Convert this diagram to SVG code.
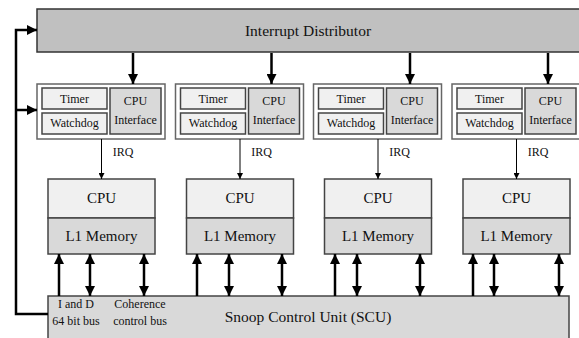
<svg xmlns="http://www.w3.org/2000/svg" width="579" height="338" viewBox="0 0 579 338">
<style>
text{font-family:"Liberation Serif","Times New Roman",serif;fill:#111;text-anchor:middle}
.big{font-size:15px}
.sm{font-size:12px}
.dist{fill:#c0c0c0;stroke:#333;stroke-width:1.5}
.grp{fill:#fff;stroke:#666;stroke-width:1.5}
.light{fill:#f0f0f0;stroke:#444;stroke-width:1.5}
.mid{fill:#d9d9d9;stroke:#444;stroke-width:1.5}
.thick{stroke:#000;stroke-width:2.5;fill:none}
.thin{stroke:#000;stroke-width:1;fill:none}
</style>
<defs>
<marker id="ah" viewBox="0 0 10 10" refX="10" refY="5" markerWidth="10" markerHeight="10" markerUnits="userSpaceOnUse" orient="auto-start-reverse"><path d="M0,0 L10,5 L0,10 z" fill="#000"/></marker>
<marker id="ahs" viewBox="0 0 10 10" refX="10" refY="5" markerWidth="6" markerHeight="6" markerUnits="userSpaceOnUse" orient="auto-start-reverse"><path d="M0,0 L10,5 L0,10 z" fill="#000"/></marker>
</defs>

<g id="distributor">
<rect class="dist" x="37" y="9" width="545" height="43"/>
<text class="big" x="308" y="36" style="font-size:15.5px">Interrupt Distributor</text>
</g>

<g id="gic0" transform="translate(37,0)">
<rect class="grp" x="0" y="84" width="128" height="55"/>
<rect class="light" x="5" y="88" width="65" height="21"/>
<text class="sm" x="37.5" y="103">Timer</text>
<rect class="light" x="5" y="113" width="65" height="21"/>
<text class="sm" x="37.5" y="127">Watchdog</text>
<rect class="mid" x="73" y="88" width="51" height="46"/>
<text class="sm" x="98.5" y="105">CPU</text>
<text class="sm" x="98.5" y="124">Interface</text>
<text class="sm" x="86" y="156">IRQ</text>
</g>
<g id="gic1" transform="translate(175.5,0)">
<rect class="grp" x="0" y="84" width="128" height="55"/>
<rect class="light" x="5" y="88" width="65" height="21"/>
<text class="sm" x="37.5" y="103">Timer</text>
<rect class="light" x="5" y="113" width="65" height="21"/>
<text class="sm" x="37.5" y="127">Watchdog</text>
<rect class="mid" x="73" y="88" width="51" height="46"/>
<text class="sm" x="98.5" y="105">CPU</text>
<text class="sm" x="98.5" y="124">Interface</text>
<text class="sm" x="86" y="156">IRQ</text>
</g>
<g id="gic2" transform="translate(313.5,0)">
<rect class="grp" x="0" y="84" width="128" height="55"/>
<rect class="light" x="5" y="88" width="65" height="21"/>
<text class="sm" x="37.5" y="103">Timer</text>
<rect class="light" x="5" y="113" width="65" height="21"/>
<text class="sm" x="37.5" y="127">Watchdog</text>
<rect class="mid" x="73" y="88" width="51" height="46"/>
<text class="sm" x="98.5" y="105">CPU</text>
<text class="sm" x="98.5" y="124">Interface</text>
<text class="sm" x="86" y="156">IRQ</text>
</g>
<g id="gic3" transform="translate(452,0)">
<rect class="grp" x="0" y="84" width="128" height="55"/>
<rect class="light" x="5" y="88" width="65" height="21"/>
<text class="sm" x="37.5" y="103">Timer</text>
<rect class="light" x="5" y="113" width="65" height="21"/>
<text class="sm" x="37.5" y="127">Watchdog</text>
<rect class="mid" x="73" y="88" width="51" height="46"/>
<text class="sm" x="98.5" y="105">CPU</text>
<text class="sm" x="98.5" y="124">Interface</text>
<text class="sm" x="86" y="156">IRQ</text>
</g>

<g id="cpu0" transform="translate(48,0)">
<rect class="light" x="0" y="179" width="107" height="39"/>
<rect class="mid" x="0" y="218" width="107" height="36"/>
<text class="big" x="53.5" y="203">CPU</text>
<text class="big" x="53.5" y="241">L1 Memory</text>
</g>
<g id="cpu1" transform="translate(186.5,0)">
<rect class="light" x="0" y="179" width="107" height="39"/>
<rect class="mid" x="0" y="218" width="107" height="36"/>
<text class="big" x="53.5" y="203">CPU</text>
<text class="big" x="53.5" y="241">L1 Memory</text>
</g>
<g id="cpu2" transform="translate(324.5,0)">
<rect class="light" x="0" y="179" width="107" height="39"/>
<rect class="mid" x="0" y="218" width="107" height="36"/>
<text class="big" x="53.5" y="203">CPU</text>
<text class="big" x="53.5" y="241">L1 Memory</text>
</g>
<g id="cpu3" transform="translate(463,0)">
<rect class="light" x="0" y="179" width="107" height="39"/>
<rect class="mid" x="0" y="218" width="107" height="36"/>
<text class="big" x="53.5" y="203">CPU</text>
<text class="big" x="53.5" y="241">L1 Memory</text>
</g>

<g id="scu">
<rect class="mid" x="48" y="296" width="521" height="50"/>
<text class="big" x="308" y="322" style="font-size:15.5px">Snoop Control Unit (SCU)</text>
<text class="sm" x="76" y="308">I and D</text>
<text class="sm" x="76" y="325">64 bit bus</text>
<text class="sm" x="140" y="308">Coherence</text>
<text class="sm" x="140" y="325">control bus</text>
</g>

<g id="connectors">
<line class="thick" x1="133" y1="53" x2="133" y2="84" marker-end="url(#ah)"/>
<line class="thick" x1="271.5" y1="53" x2="271.5" y2="84" marker-end="url(#ah)"/>
<line class="thick" x1="410" y1="53" x2="410" y2="84" marker-end="url(#ah)"/>
<line class="thick" x1="548" y1="53" x2="548" y2="84" marker-end="url(#ah)"/>

<line class="thin" x1="101.5" y1="139" x2="101.5" y2="179" marker-end="url(#ahs)"/>
<line class="thin" x1="240" y1="139" x2="240" y2="179" marker-end="url(#ahs)"/>
<line class="thin" x1="378" y1="139" x2="378" y2="179" marker-end="url(#ahs)"/>
<line class="thin" x1="516.5" y1="139" x2="516.5" y2="179" marker-end="url(#ahs)"/>

<polyline class="thick" points="48,314 16,314 16,30 37,30" marker-end="url(#ah)"/>
<line class="thick" x1="16" y1="110" x2="37" y2="110" marker-end="url(#ah)"/>

<line class="thick" x1="59" y1="296" x2="59" y2="254" marker-end="url(#ah)"/>
<line class="thick" x1="90" y1="296" x2="90" y2="254" marker-start="url(#ah)" marker-end="url(#ah)"/>
<line class="thick" x1="144" y1="296" x2="144" y2="254" marker-start="url(#ah)" marker-end="url(#ah)"/>

<line class="thick" x1="197" y1="296" x2="197" y2="254" marker-end="url(#ah)"/>
<line class="thick" x1="229" y1="296" x2="229" y2="254" marker-start="url(#ah)" marker-end="url(#ah)"/>
<line class="thick" x1="282" y1="296" x2="282" y2="254" marker-start="url(#ah)" marker-end="url(#ah)"/>

<line class="thick" x1="335" y1="296" x2="335" y2="254" marker-end="url(#ah)"/>
<line class="thick" x1="357" y1="296" x2="357" y2="254" marker-start="url(#ah)" marker-end="url(#ah)"/>
<line class="thick" x1="420" y1="296" x2="420" y2="254" marker-start="url(#ah)" marker-end="url(#ah)"/>

<line class="thick" x1="473" y1="296" x2="473" y2="254" marker-end="url(#ah)"/>
<line class="thick" x1="494" y1="296" x2="494" y2="254" marker-start="url(#ah)" marker-end="url(#ah)"/>
<line class="thick" x1="559" y1="296" x2="559" y2="254" marker-start="url(#ah)" marker-end="url(#ah)"/>
</g>
</svg>
